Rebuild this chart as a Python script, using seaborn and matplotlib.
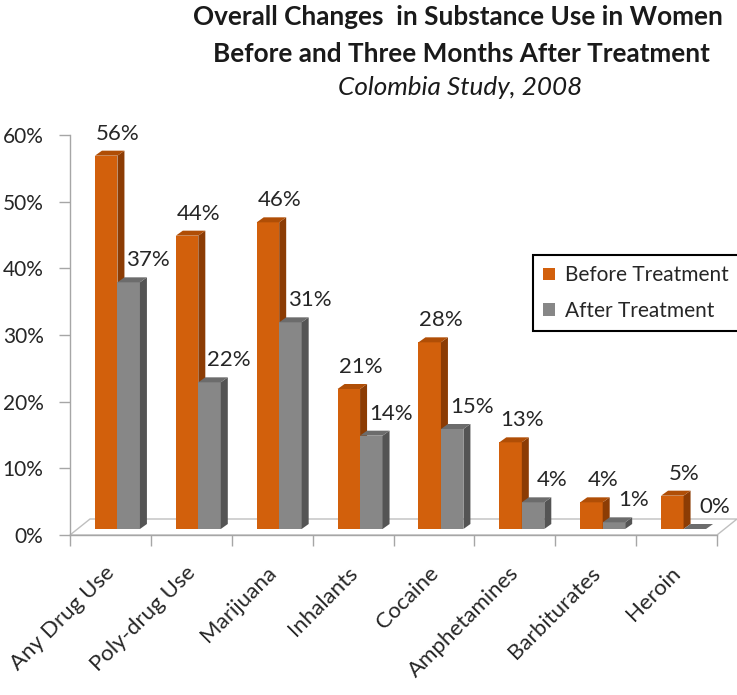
import numpy as np
import pandas as pd
import matplotlib
matplotlib.use("Agg")
import matplotlib.pyplot as plt
import seaborn as sns
from matplotlib.patches import Polygon

# ---------------- data ----------------
categories = ["Any Drug Use", "Poly-drug Use", "Marijuana", "Inhalants",
              "Cocaine", "Amphetamines", "Barbiturates", "Heroin"]
before_treatment = [56, 44, 46, 21, 28, 13, 4, 5]
after_treatment = [37, 22, 31, 14, 15, 4, 1, 0]
series_names = ["Before Treatment", "After Treatment"]
y_ticks = [0, 10, 20, 30, 40, 50, 60]
y_tick_labels = [f"{t}%" for t in y_ticks]
title_lines = ["Overall Changes  in Substance Use in Women",
               "Before and Three Months After Treatment",
               "Colombia Study, 2008"]

df = pd.DataFrame({
    "Substance": categories * 2,
    "Share": before_treatment + after_treatment,
    "Period": [series_names[0]] * len(categories) + [series_names[1]] * len(categories),
})

# ---------------- style ----------------
sns.set_style("white")
plt.rcParams["font.family"] = ["Lato", "DejaVu Sans"]
text_color = "#262626"
axis_color = "#A6A6A6"

front = {series_names[0]: "#D2600C", series_names[1]: "#878787"}
side = {series_names[0]: "#8C3C04", series_names[1]: "#545454"}
top = {series_names[0]: "#B04E06", series_names[1]: "#6C6C6C"}

W, H = 737, 695
fig = plt.figure(figsize=(W / 100, H / 100), dpi=100)
ax_l, ax_r, ax_b, ax_t = 70, 717, 535, 135
ax = fig.add_axes([ax_l / W, 1 - ax_b / H, (ax_r - ax_l) / W, (ax_b - ax_t) / H])

sns.barplot(data=df, x="Substance", y="Share", hue="Period",
            order=categories, hue_order=series_names, palette=front,
            width=0.556, saturation=1, linewidth=0, edgecolor="none",
            ax=ax)

ax.set_xlim(-0.5, len(categories) - 0.5)
ax.set_ylim(y_ticks[0], y_ticks[-1])

# pixel -> data conversions
sx = (len(categories)) / (ax_r - ax_l)
sy = (y_ticks[-1] - y_ticks[0]) / (ax_b - ax_t)

shift_x, shift_y = 7 * sx, 6 * sy      # bars placed on the floor
depth_x, depth_y = 7 * sx, 5 * sy      # 3-D depth of each bar
label_dx = [8, 16]

# floor
floor = Polygon([(-0.5, 0), (len(categories) - 0.5, 0),
                 (len(categories) - 0.5 + 20 * sx, 16 * sy), (-0.5 + 20 * sx, 16 * sy)],
                closed=True, facecolor="white", edgecolor="#BFBFBF", lw=1,
                clip_on=False, zorder=1)
ax.add_patch(floor)

for k, cont in enumerate(ax.containers):
    name = series_names[k]
    z = 3 + k
    for p in cont.patches:
        p.set_x(p.get_x() + shift_x)
        p.set_y(p.get_y() + shift_y)
        p.set_zorder(z)
        x0 = p.get_x()
        x1 = x0 + p.get_width()
        y0 = p.get_y()
        y1 = y0 + p.get_height()
        ax.add_patch(Polygon([(x1, y0), (x1 + depth_x, y0 + depth_y),
                              (x1 + depth_x, y1 + depth_y), (x1, y1)],
                             closed=True, facecolor=side[name], edgecolor="none",
                             clip_on=False, zorder=z + 0.1))
        ax.add_patch(Polygon([(x0, y1), (x1, y1), (x1 + depth_x, y1 + depth_y),
                              (x0 + depth_x, y1 + depth_y)],
                             closed=True, facecolor=top[name], edgecolor="none",
                             clip_on=False, zorder=z + 0.2))
        ax.annotate(f"{p.get_height():.0f}%",
                    (x0 + p.get_width() / 2 + depth_x / 2, y1 + depth_y),
                    xytext=(label_dx[k], 17), textcoords="offset pixels",
                    ha="center", va="center", fontsize=16, color=text_color,
                    zorder=8, annotation_clip=False)

# axes styling
sns.despine(ax=ax)
for s in ("left", "bottom"):
    ax.spines[s].set_color(axis_color)
    ax.spines[s].set_linewidth(1)
ax.set_xlabel("")
ax.set_ylabel("")

ax.set_yticks(y_ticks)
ax.set_yticklabels(y_tick_labels)
ax.tick_params(axis="y", left=True, direction="out", length=8, width=1,
               color=axis_color, pad=11, labelsize=15, labelcolor=text_color)

ax.set_xticks(np.arange(len(categories) + 1) - 0.5)
ax.set_xticklabels([])
ax.set_xticks(np.arange(len(categories)) - 6 * sx, minor=True)
ax.set_xticklabels(categories, minor=True, rotation=45, ha="right",
                   rotation_mode="anchor")
ax.tick_params(axis="x", which="major", bottom=True, direction="out",
               length=8, width=1, color=axis_color)
ax.tick_params(axis="x", which="minor", bottom=True, length=0, pad=20,
               labelsize=16, labelcolor=text_color)

# legend
handles, labels = ax.get_legend_handles_labels()
leg = ax.legend(handles, labels, loc="upper left",
                bbox_to_anchor=(533 / W, 1 - 255 / H), bbox_transform=fig.transFigure,
                frameon=True, fancybox=False, edgecolor="black", framealpha=1,
                fontsize=15, handlelength=0.55, handleheight=0.55,
                handletextpad=0.5, borderpad=0.5, labelspacing=0.75,
                borderaxespad=0)
leg.get_frame().set_linewidth(1.5)
for t in leg.get_texts():
    t.set_color(text_color)

# titles
fig.text(458 / W, 1 - 25 / H, title_lines[0], ha="center", va="baseline",
         fontsize=18.8, fontweight="bold", color="#1a1a1a")
fig.text(461 / W, 1 - 62 / H, title_lines[1], ha="center", va="baseline",
         fontsize=18.8, fontweight="bold", color="#1a1a1a")
fig.text(460 / W, 1 - 95 / H, title_lines[2], ha="center", va="baseline",
         fontsize=18.8, fontstyle="italic", color="#1a1a1a")

fig.savefig("out.png", dpi=100)
